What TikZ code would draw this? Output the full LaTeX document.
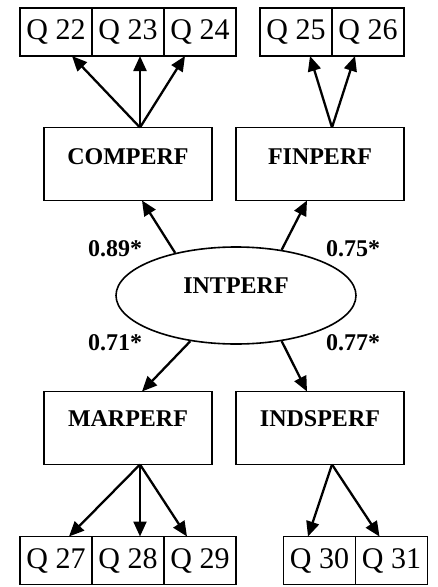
\documentclass[tikz,border=0pt]{standalone}
\usepackage{fontspec}
\setmainfont{Liberation Serif}
\usetikzlibrary{positioning,shapes.geometric,arrows.meta}

\tikzset{
  item/.style={draw, line width=1.6pt, minimum width=72pt, minimum height=48pt,
    inner sep=0pt, outer sep=0pt, font=\fontsize{30}{30}\selectfont},
  factor/.style={draw, line width=1.8pt, minimum width=168pt, minimum height=73pt,
    inner sep=0pt, outer sep=0pt},
  coef/.style={font=\fontsize{24}{24}\selectfont\bfseries},
  load/.style={line width=2.3pt, -{Triangle[length=15pt,width=13pt]}}
}

\begin{document}
\begin{tikzpicture}[x=1pt,y=-1pt]

    \useasboundingbox (0,0) rectangle (437,587);

    % Latent variable
    \node[ellipse, draw, line width=1.6pt, minimum width=240pt, minimum height=97pt,
      inner sep=0pt] (intperf) at (236,295.5) {};
    \node[coef] (intname) at (236,286) {INTPERF};

    % Factor boxes
    \node[factor, label={[coef, anchor=base, yshift=-37pt]north:COMPERF}] (comperf) at (128,164) {};
    \node[factor, label={[coef, anchor=base, yshift=-37pt]north:FINPERF}] (finperf) at (320,164) {};
    \node[factor, label={[coef, anchor=base, yshift=-35pt]north:MARPERF}] (marperf) at (128,428) {};
    \node[factor, label={[coef, anchor=base, yshift=-35pt]north:INDSPERF}] (indsperf) at (320,428) {};

    % Items on top
    \node[item] (q22) at (56,32) {Q 22};
    \node[item, right=0pt of q22] (q23) {Q 23};
    \node[item, right=0pt of q23] (q24) {Q 24};
    \node[item] (q25) at (296,32) {Q 25};
    \node[item, right=0pt of q25] (q26) {Q 26};

    % Items at the bottom
    \node[item] (q27) at (56,560.5) {Q 27};
    \node[item, right=0pt of q27] (q28) {Q 28};
    \node[item, right=0pt of q28] (q29) {Q 29};
    \node[item] (q30) at (319.5,560.5) {Q 30};
    \node[item, right=0pt of q30] (q31) {Q 31};

    % Loadings of the latent variable
    \draw[load] (intperf.145) -- ([xshift=14pt]comperf.south);
    \draw[load] (intperf.45) -- ([xshift=-13pt]finperf.south);
    \draw[load] (intperf.225) -- ([xshift=14pt]marperf.north);
    \draw[load] (intperf.315) -- ([xshift=-13pt]indsperf.north);

    \node[coef] (c89) at (115,249) {0.89*};
    \node[coef] (c75) at (353,249) {0.75*};
    \node[coef] (c71) at (115,343) {0.71*};
    \node[coef] (c77) at (353,343) {0.77*};

    % Factors to items
    \draw[load] ([xshift=12pt]comperf.north) -- ([xshift=16pt]q22.south);
    \draw[load] ([xshift=12pt]comperf.north) -- ([xshift=12pt]q23.south);
    \draw[load] ([xshift=12pt]comperf.north) -- ([xshift=-15pt]q24.south);
    \draw[load] ([xshift=12pt]finperf.north) -- ([xshift=14pt]q25.south);
    \draw[load] ([xshift=12pt]finperf.north) -- ([xshift=-13pt]q26.south);

    \draw[load] ([xshift=12pt]marperf.south) -- ([xshift=13pt]q27.north);
    \draw[load] ([xshift=12pt]marperf.south) -- ([xshift=12pt]q28.north);
    \draw[load] ([xshift=12pt]marperf.south) -- ([xshift=-13pt]q29.north);
    \draw[load] ([xshift=12pt]indsperf.south) -- ([xshift=-11.5pt]q30.north);
    \draw[load] ([xshift=12pt]indsperf.south) -- ([xshift=-12pt]q31.north);

\end{tikzpicture}
\end{document}
